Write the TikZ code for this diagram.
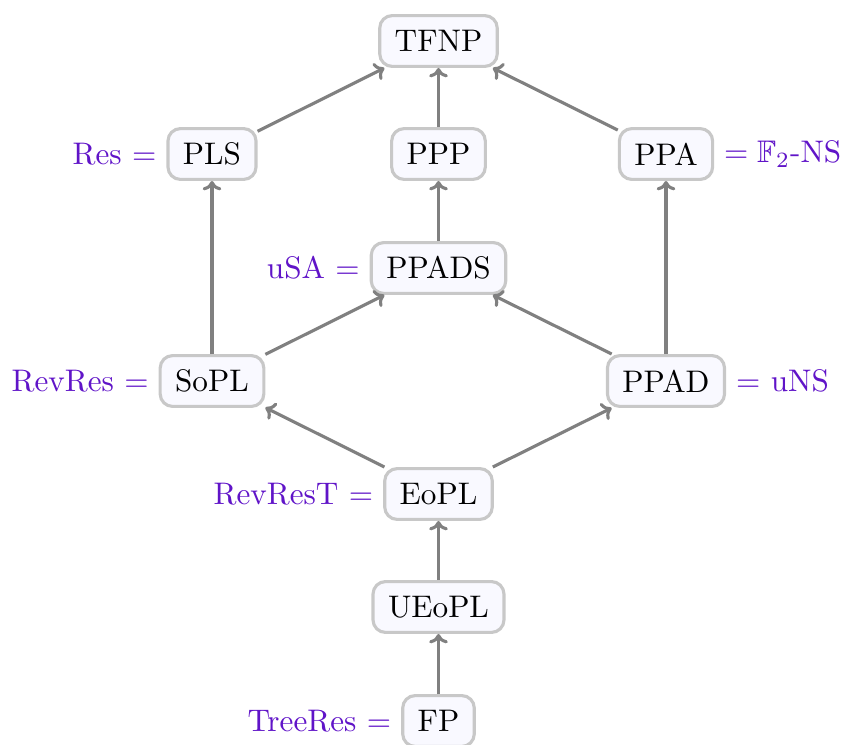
\documentclass[tikz,border=0pt]{standalone}
\usepackage{amssymb}
\usetikzlibrary{arrows.meta}
\definecolor{labpurple}{RGB}{96,20,200}
\definecolor{boxfill}{RGB}{249,249,255}
\definecolor{boxdraw}{RGB}{200,200,200}
\definecolor{arrowgray}{RGB}{128,128,128}
\begin{document}
\begin{tikzpicture}[x=0.3205pt,y=-0.3205pt,
  cls/.style={draw=boxdraw, fill=boxfill, line width=1pt, rounded corners=4pt,
    minimum height=16.3pt, inner xsep=4.8pt, font=\normalsize},
  imp/.style={draw=arrowgray, line width=1pt, -{To[length=3pt,width=6pt]}},
  lab/.style={text=labpurple, inner sep=3pt}
]
\useasboundingbox (0,0) rectangle (844,744);
\node[cls] (tfnp) at (438.5,41) {TFNP};
\node[cls, label={[lab]left:Res $=$}] (pls) at (212,154) {PLS};
\node[cls] (ppp) at (438.5,154) {PPP};
\node[cls, label={[lab]right:$=\mathbb{F}_2$-NS}] (ppa) at (666,154) {PPA};
\node[cls, label={[lab]left:uSA $=$}] (ppads) at (438.5,268) {PPADS};
\node[cls, label={[lab]left:RevRes $=$}] (sopl) at (212,381) {SoPL};
\node[cls, label={[lab]right:$=$ uNS}] (ppad) at (666,381) {PPAD};
\node[cls, label={[lab]left:RevResT $=$}] (eopl) at (438.5,494) {EoPL};
\node[cls] (ueopl) at (438.5,607) {UEoPL};
\node[cls, label={[lab]left:TreeRes $=$}] (fp) at (438.5,721) {FP};
\draw[imp] (pls) -- (tfnp);
\draw[imp] (ppp) -- (tfnp);
\draw[imp] (ppa) -- (tfnp);
\draw[imp] (ppads) -- (ppp);
\draw[imp] (sopl) -- (pls);
\draw[imp] (ppad) -- (ppa);
\draw[imp] (sopl) -- (ppads);
\draw[imp] (ppad) -- (ppads);
\draw[imp] (eopl) -- (sopl);
\draw[imp] (eopl) -- (ppad);
\draw[imp] (ueopl) -- (eopl);
\draw[imp] (fp) -- (ueopl);
\end{tikzpicture}
\end{document}
